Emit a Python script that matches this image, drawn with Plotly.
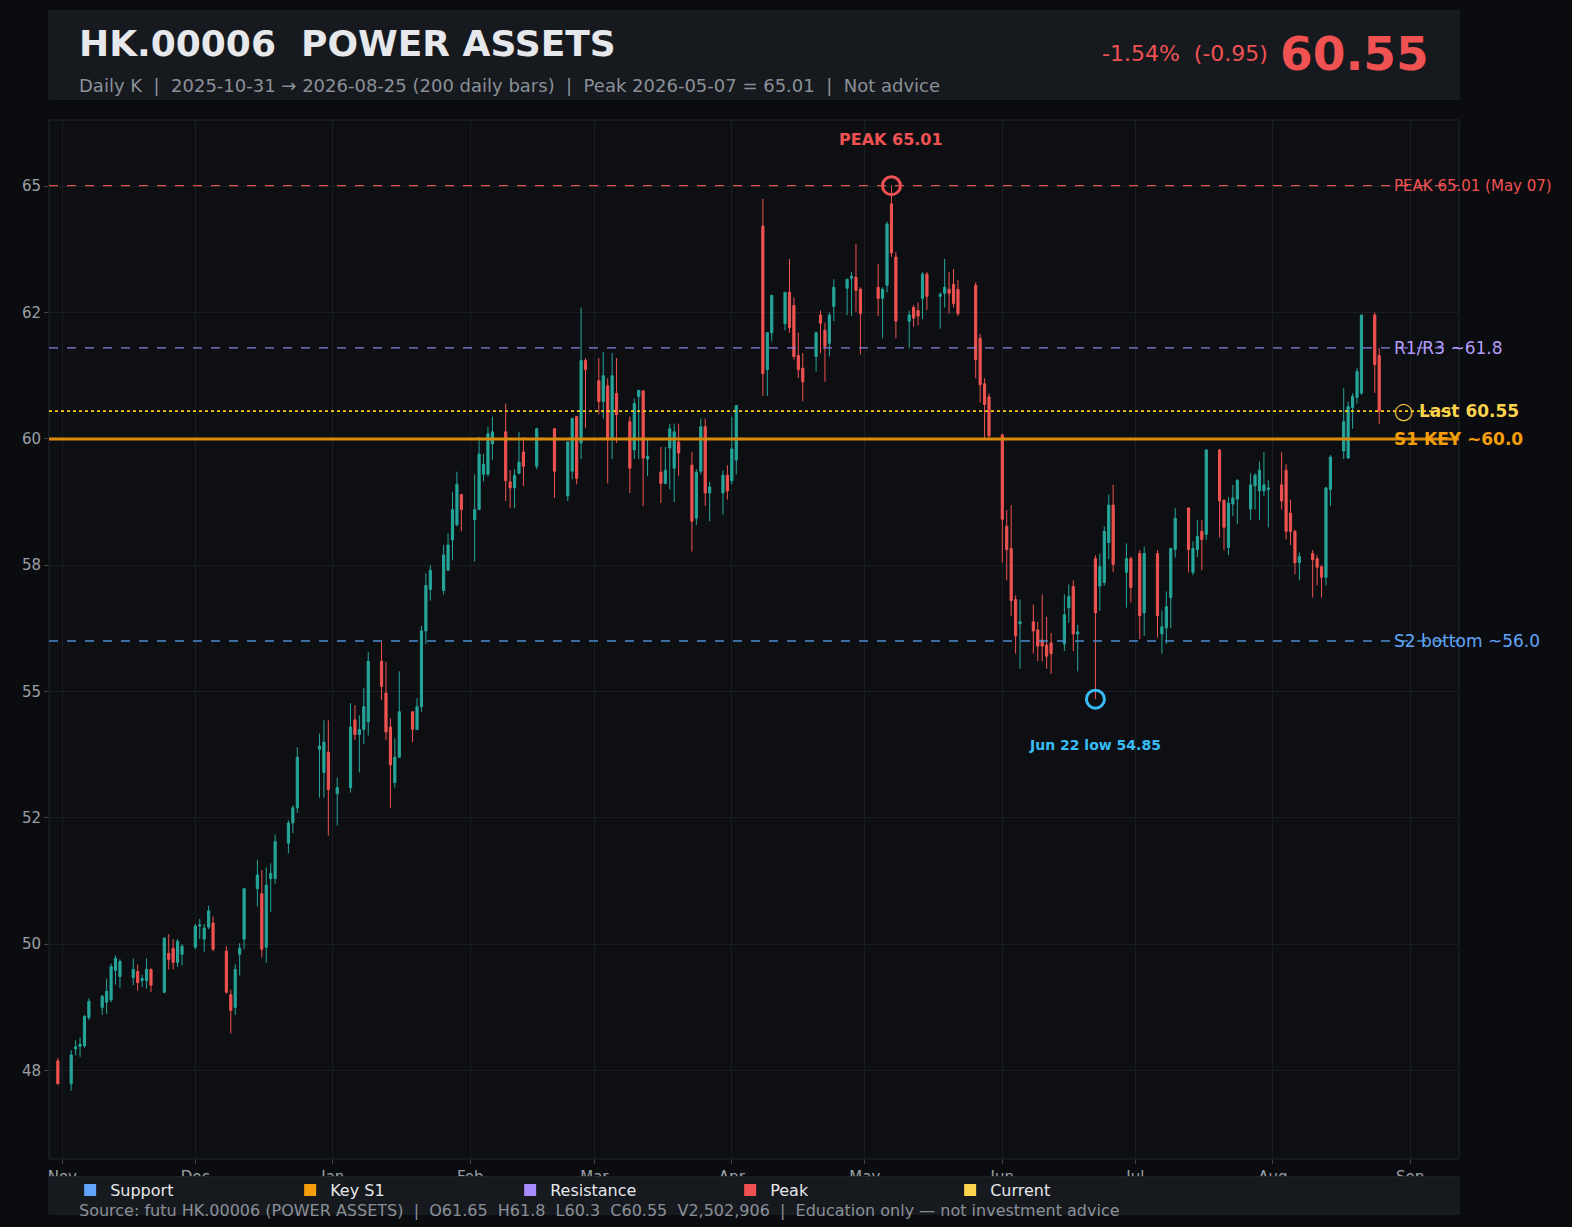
import pandas as pd
import plotly.graph_objects as go

holidays = ["2025-12-25", "2025-12-26", "2026-01-01", "2026-02-17", "2026-02-18", "2026-02-19",
            "2026-04-03", "2026-04-06", "2026-04-07", "2026-05-01", "2026-05-25", "2026-06-19", "2026-07-01"]
dates = [d for d in pd.bdate_range("2025-10-31", "2026-08-25") if d.strftime("%Y-%m-%d") not in holidays]

opens = [47.69,47.24,47.93,47.98,47.99,48.55,48.75,48.85,48.9,49.48,49.36,49.34,49.46,49.28,49.28,49.5,49.05,49.82,49.92,49.64,
         49.8,49.94,50.36,50.1,50.34,50.42,49.86,49.0,48.75,49.8,50.1,51.1,51.0,49.94,51.3,51.3,52.0,52.4,52.7,53.86,
         53.4,53.8,52.98,53.1,54.44,54.15,54.25,54.4,55.6,54.97,54.3,53.2,53.7,54.6,54.25,54.7,56.2,57.02,57.0,57.4,
         58.0,58.3,58.9,58.4,58.6,59.3,59.3,59.9,60.14,59.15,59.03,59.32,59.74,59.46,60.2,58.87,59.36,60.44,59.92,61.55,
         61.15,60.74,61.05,60.0,60.9,60.34,59.78,60.84,60.95,59.6,59.34,59.12,59.82,59.42,59.94,59.48,58.43,59.36,60.24,58.93,
         58.93,59.28,59.17,59.58,64.21,61.37,62.1,62.28,62.9,62.64,61.65,61.4,61.63,62.45,62.15,61.89,62.62,62.98,63.18,63.2,
         62.96,63.0,62.78,63.04,64.65,63.6,62.33,62.6,62.54,62.78,63.26,62.82,62.88,62.96,63.06,62.96,63.04,61.99,61.09,60.83,
         60.08,58.27,57.83,56.82,56.34,56.38,56.22,56.02,55.92,55.96,55.94,56.66,57.08,56.14,57.63,57.09,57.16,57.95,58.69,57.36,
         57.63,57.73,56.56,57.73,56.14,56.26,56.86,57.81,58.63,57.36,57.81,58.17,58.11,59.78,58.79,57.85,58.71,58.81,58.61,59.07,
         58.97,58.97,59.0,59.09,59.38,58.53,58.17,57.55,57.73,57.63,57.47,57.26,59.0,59.76,59.62,60.62,60.82,60.91,62.45,61.65]
highs = [47.75,47.9,48.1,48.15,48.6,48.93,49.0,49.32,49.62,49.78,49.7,49.72,49.6,49.4,49.72,49.52,50.14,50.2,50.1,50.1,
         50.0,50.4,50.5,50.4,50.76,50.55,49.96,49.1,49.6,50.02,51.1,51.67,51.47,51.52,51.6,52.17,52.45,52.75,53.9,54.17,
         54.43,54.43,53.3,54.77,54.73,54.53,55.07,55.78,55.98,55.59,54.47,54.07,55.4,54.6,54.87,56.3,57.34,57.5,57.9,58.13,
         58.95,59.35,58.9,59.3,60.04,59.7,60.24,60.44,60.7,59.38,59.4,60.14,60.04,60.22,60.2,59.94,60.42,60.44,62.6,61.6,
         61.6,61.72,61.2,61.7,61.6,60.44,60.8,60.96,60.96,60.0,59.84,59.84,60.3,60.3,60.3,59.74,59.4,60.4,60.4,59.15,
         59.38,59.48,60.44,60.66,64.75,62.1,62.84,62.9,63.56,62.8,62.1,61.7,62.12,62.54,62.3,62.5,63.16,63.16,63.3,63.86,
         63.0,63.46,63.0,64.3,65.01,63.7,62.54,62.65,62.7,63.3,63.3,62.9,63.56,63.3,63.36,63.15,63.1,62.08,61.2,60.9,
         60.1,58.59,58.69,56.9,56.82,56.72,56.38,56.92,56.48,56.16,56.92,57.12,57.2,56.32,57.7,57.73,58.27,58.9,59.09,57.93,
         57.67,57.8,57.87,57.8,56.6,56.98,57.85,58.63,58.65,57.97,58.4,58.4,59.8,59.8,58.63,58.85,59.09,59.2,59.32,59.32,
         59.55,59.74,59.18,59.74,59.5,58.8,58.2,57.75,57.8,57.7,57.5,59.05,59.68,61.0,60.74,60.9,61.4,62.45,62.5,61.8]
lows = [47.22,47.1,47.8,47.77,47.95,48.5,48.6,48.62,48.85,49.2,49.14,49.19,49.08,49.15,49.12,49.05,49.03,49.5,49.5,49.55,
        49.58,49.9,50.1,49.85,50.3,49.86,49.02,48.23,48.6,49.38,49.9,50.75,49.74,49.63,50.64,51.2,51.8,52.2,52.6,52.9,
        52.9,52.15,52.35,53.0,54.04,53.4,53.96,54.13,54.83,54.04,52.7,53.1,53.7,54.0,54.25,54.6,55.94,56.8,56.92,57.38,
        57.6,58.27,58.17,57.57,58.6,59.16,59.26,59.58,58.77,58.63,58.63,59.3,59.07,59.4,58.83,58.77,59.2,59.1,59.6,60.22,
        60.48,60.4,59.12,59.6,59.92,58.93,59.6,59.6,58.67,59.26,58.73,59.1,59.0,58.75,59.27,57.77,58.3,59.3,58.67,58.37,
        58.5,58.8,59.1,59.3,60.85,60.85,61.93,62.15,62.1,61.57,61.2,60.74,61.33,61.69,61.13,61.63,62.33,62.45,62.43,62.52,
        61.67,62.43,61.99,62.9,63.6,61.99,61.79,62.22,62.25,62.37,62.55,62.18,62.6,62.48,62.6,62.43,61.2,60.72,60.02,60.0,
        57.55,57.2,56.5,55.75,55.45,55.75,55.6,55.6,55.45,55.35,55.8,56.36,55.8,55.4,54.85,56.6,57.1,57.62,57.36,56.66,
        56.76,56.04,56.1,56.07,55.75,55.94,56.26,57.65,57.36,57.3,57.66,57.4,58.0,58.05,57.8,57.7,58.47,58.31,58.4,58.6,
        58.4,58.87,58.25,58.6,58.01,57.9,57.32,57.2,56.86,57.1,56.86,57.1,58.67,59.6,59.62,60.2,60.7,60.87,60.91,60.3]
closes = [47.24,47.81,47.97,48.02,48.57,48.87,48.97,49.07,49.56,49.72,49.66,49.5,49.24,49.32,49.5,49.19,50.12,49.7,49.64,50.06,
          49.96,50.36,50.38,50.32,50.66,49.9,49.05,48.69,49.5,49.92,51.1,51.37,49.9,51.17,51.4,52.03,52.4,52.7,53.7,53.92,
          54.0,53.06,53.1,54.3,54.15,54.25,54.7,55.6,55.1,54.2,53.55,53.7,54.6,54.25,54.7,56.2,57.1,57.4,57.7,57.9,
          58.6,59.1,58.6,58.6,59.7,59.5,60.1,60.14,59.17,59.03,59.28,59.54,59.46,60.2,59.36,59.94,60.4,59.22,61.55,61.37,
          60.74,61.25,60.0,61.25,60.48,59.42,60.7,60.96,59.62,59.66,59.12,59.38,60.2,60.14,59.72,58.37,59.34,60.24,58.93,59.05,
          59.28,58.97,59.8,60.66,61.29,62.1,62.84,62.9,62.2,61.63,61.37,61.13,62.1,62.29,61.83,62.45,63.0,63.16,63.22,62.94,
          62.48,62.78,62.96,64.25,63.68,62.33,62.45,62.39,62.43,63.26,62.82,62.86,63.0,62.88,62.68,62.48,61.57,61.07,60.68,60.06,
          58.41,57.81,56.8,56.1,56.38,56.2,55.9,55.9,55.7,55.75,56.52,56.88,56.14,56.18,56.56,57.47,58.17,58.69,57.52,57.63,
          57.06,56.5,57.73,56.5,56.28,56.68,57.83,58.43,57.81,57.83,58.07,58.01,59.78,58.77,58.25,58.73,58.83,59.18,59.09,59.28,
          59.38,59.09,59.03,58.77,58.17,58.17,57.55,57.67,57.61,57.46,57.26,59.03,59.64,60.34,60.64,60.84,61.33,62.45,61.47,60.55]

tick_vals = [47.5, 50.0, 52.5, 55.0, 57.5, 60.0, 62.5, 65.0]
tick_text = ["48", "50", "52", "55", "58", "60", "62", "65"]
month_ticks = ["2025-11-01", "2025-12-01", "2026-01-01", "2026-02-01", "2026-03-01", "2026-04-01",
               "2026-05-01", "2026-06-01", "2026-07-01", "2026-08-01", "2026-09-01"]
month_text = ["Nov", "Dec", "Jan", "Feb", "Mar", "Apr", "May", "Jun", "Jul", "Aug", "Sep"]

peak_val, peak_date = 65.01, "2026-05-07"
low_val, low_date = 54.85, "2026-06-22"
r1, s1, s2, last = 61.8, 60.0, 56.0, 60.55

BG = "#0d0f13"
PAPER = "#0b0c0f"
fig = go.Figure()
fig.add_trace(go.Candlestick(x=dates, open=opens, high=highs, low=lows, close=closes,
                             increasing=dict(line=dict(color="#26a69a", width=1), fillcolor="#26a69a"),
                             decreasing=dict(line=dict(color="#ef5350", width=1), fillcolor="#ef5350"),
                             whiskerwidth=0, showlegend=False, hoverinfo="skip"))

fig.add_trace(go.Scatter(x=[peak_date], y=[peak_val], mode="markers", showlegend=False,
                         marker=dict(symbol="circle-open", size=18, color="#f05252", line=dict(width=3))))
fig.add_trace(go.Scatter(x=[low_date], y=[low_val], mode="markers", showlegend=False,
                         marker=dict(symbol="circle-open", size=18, color="#38bdf8", line=dict(width=3))))

for name, col in [("Support", "#60a5fa"), ("Key S1", "#f59e0b"), ("Resistance", "#a78bfa"),
                  ("Peak", "#f05252"), ("Current", "#fcd34d")]:
    fig.add_trace(go.Scatter(x=[None], y=[None], mode="markers", name=name,
                             marker=dict(symbol="square", size=12, color=col)))

fig.add_shape(type="rect", xref="paper", yref="paper", x0=0, x1=1, y0=1.02, y1=1.105,
              fillcolor="#16191e", line=dict(color="#1f2329", width=1), layer="below")
fig.add_shape(type="rect", xref="paper", yref="paper", x0=0, x1=1, y0=-0.053, y1=-0.017,
              fillcolor="#16191e", line=dict(color="#1f2329", width=1), layer="above")
fig.add_shape(type="rect", xref="paper", yref="paper", x0=0, x1=1, y0=0, y1=1,
              fillcolor="rgba(0,0,0,0)", line=dict(color="#23272e", width=1))

def hline(y, color, dash, width=1.3):
    fig.add_shape(type="line", xref="paper", yref="y", x0=0, x1=1, y0=y, y1=y,
                  line=dict(color=color, dash=dash, width=width))

hline(peak_val, "#d9534f", "dash")
hline(r1, "#8b80e0", "dash")
hline(last, "#facc15", "dot", 1.8)
hline(s1, "#d98a0b", "solid", 3)
hline(s2, "#4a8fd0", "dash")

lx = "2026-08-27"
def rlabel(y, text, color, size=16, bold=False):
    fig.add_annotation(x=lx, y=y, text=f"<b>{text}</b>" if bold else text, showarrow=False,
                       xanchor="left", yanchor="middle", xshift=4, font=dict(color=color, size=size))

rlabel(peak_val, "PEAK 65.01 (May 07)", "#f05252", 15)
rlabel(r1, "R1/R3 ~61.8", "#b39dfa", 17)
rlabel(last, "◯ Last 60.55", "#fcd34d", 17, True)
rlabel(s1, "S1 KEY ~60.0", "#f59e0b", 17, True)
rlabel(s2, "S2 bottom ~56.0", "#60a5fa", 17)

fig.add_annotation(x=peak_date, y=peak_val, text="<b>PEAK 65.01</b>", showarrow=False, yshift=46,
                   font=dict(color="#f05252", size=16))
fig.add_annotation(x=low_date, y=low_val, text="<b>Jun 22 low 54.85</b>", showarrow=False, yshift=-46,
                   font=dict(color="#38bdf8", size=14))

fig.add_annotation(xref="paper", yref="paper", x=0.02, y=1.0735, text="<b>HK.00006  POWER ASSETS</b>",
                   showarrow=False, xanchor="left", yanchor="middle", font=dict(color="#e6e8eb", size=36))
fig.add_annotation(xref="paper", yref="paper", x=0.02, y=1.033,
                   text="Daily K  |  2025-10-31 → 2026-08-25 (200 daily bars)  |  Peak 2026-05-07 = 65.01  |  Not advice",
                   showarrow=False, xanchor="left", yanchor="middle", font=dict(color="#8b9098", size=18))
fig.add_annotation(xref="paper", yref="paper", x=0.98, y=1.064, text="<b>60.55</b>",
                   showarrow=False, xanchor="right", yanchor="middle", font=dict(color="#f05252", size=47))
fig.add_annotation(xref="paper", yref="paper", x=0.866, y=1.064, text="-1.54%  (-0.95)",
                   showarrow=False, xanchor="right", yanchor="middle", font=dict(color="#f05252", size=22))
fig.add_annotation(xref="paper", yref="paper", x=0.02, y=-0.0495,
                   text="Source: futu HK.00006 (POWER ASSETS)  |  O61.65  H61.8  L60.3  C60.55  V2,502,906  |  Education only — not investment advice",
                   showarrow=False, xanchor="left", yanchor="middle", font=dict(color="#8b9098", size=16))

fig.update_layout(
    width=1572, height=1227, paper_bgcolor=PAPER, plot_bgcolor=BG,
    margin=dict(l=49, r=113, t=120, b=68),
    font=dict(family="DejaVu Sans", color="#9aa0a6"),
    showlegend=True,
    legend=dict(orientation="h", x=0.015, y=-0.0135, xanchor="left", yanchor="top",
                font=dict(color="#e6e8eb", size=16), bgcolor="rgba(0,0,0,0)",
                entrywidth=175, tracegroupgap=0),
    xaxis=dict(type="date", range=["2025-10-29", "2026-09-12"], rangeslider=dict(visible=False),
               tickvals=month_ticks, ticktext=month_text, showgrid=True, gridcolor="#1a1d22",
               tickfont=dict(size=15, color="#9aa0a6"), zeroline=False, showline=False,
               ticks="outside", ticklen=4, tickcolor="#444"),
    yaxis=dict(range=[45.75, 66.31], tickvals=tick_vals, ticktext=tick_text, showgrid=True,
               gridcolor="#1a1d22", tickfont=dict(size=15, color="#9aa0a6"), zeroline=False,
               ticks="outside", ticklen=4, tickcolor="#444"),
)
fig.write_html("out.html", config={"displayModeBar": False},
               post_script="document.body.style.margin='0';document.body.style.background='" + PAPER + "';")
